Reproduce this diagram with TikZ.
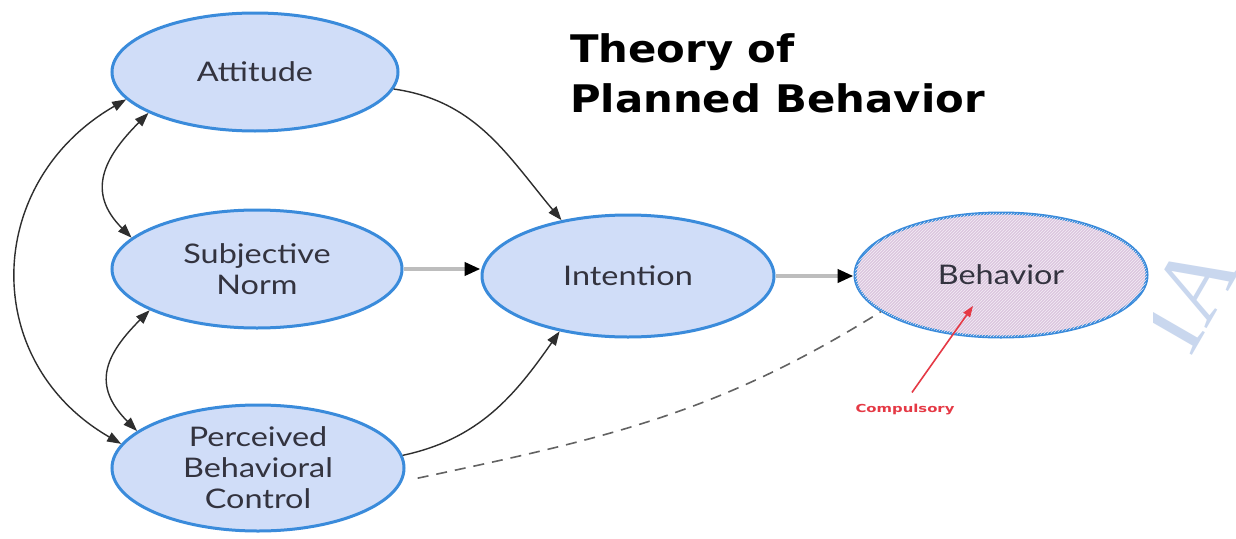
\documentclass[tikz,border=0pt]{standalone}
\usepackage{fontspec}
\setmainfont{Lato}
\newfontfamily\nodefont[FakeStretch=1.2]{Lato}
\newfontfamily\titlefont[FakeStretch=1.1]{DejaVu Sans}
\newfontfamily\compfont[FakeStretch=1.35]{DejaVu Sans}
\newfontfamily\wmfont{Liberation Serif}
\usetikzlibrary{shapes.geometric,arrows.meta,patterns}
\definecolor{efill}{HTML}{D0DDF8}
\definecolor{eborder}{HTML}{3A8BDB}
\definecolor{bfill}{HTML}{DBC6DF}
\definecolor{txt}{HTML}{33333F}
\definecolor{lnk}{HTML}{2E2E2E}
\definecolor{hline}{HTML}{BDBDBD}
\definecolor{redc}{HTML}{E53945}
\definecolor{wm}{HTML}{C9D7EE}
\tikzset{
  ell/.style={ellipse, draw=eborder, line width=3pt, fill=efill, inner sep=0pt,
    text=txt, align=center, font=\nodefont\fontsize{27}{31}\selectfont},
  curvearrow/.style={draw=lnk, line width=1.4pt, -{Triangle[length=14pt,width=10pt]}},
  dblarrow/.style={draw=lnk, line width=1.4pt, {Triangle[length=14pt,width=10pt]}-{Triangle[length=14pt,width=10pt]}},
  grayarrow/.style={draw=hline, line width=4pt, -{Triangle[length=16pt,width=13pt,color=black]}},
}
\begin{document}
\begin{tikzpicture}[x=1pt,y=-1pt]
\useasboundingbox (0,0) rectangle (1236,538);
\fill[white] (0,0) rectangle (1236,538);
% watermark
\begin{scope}
\clip (1153,200) rectangle (1236,420);
\node[text=wm, rotate=60, font=\wmfont\fontsize{100}{100}\selectfont, inner sep=0pt] (wmark) at (1188,296) {IA};
\end{scope}
% title
\node[anchor=base west, font=\titlefont\bfseries\fontsize{38}{50}\selectfont, inner sep=0pt] (title) at (570,62) {Theory of};
\node[anchor=base west, font=\titlefont\bfseries\fontsize{38}{50}\selectfont, inner sep=0pt] (title2) at (570,112) {Planned Behavior};
% nodes
\node[ell, minimum width=286pt, minimum height=118pt] (att) at (255,72) {Attitude};
\node[ell, minimum width=290pt, minimum height=118pt] (sn) at (257,269) {Subjective\\Norm};
\node[ell, minimum width=292pt, minimum height=126pt] (pbc) at (258,468) {Perceived\\Behavioral\\Control};
\node[ell, minimum width=292pt, minimum height=122pt] (int) at (628,276) {Intention};
\node[ell, fill=bfill, minimum width=292pt, minimum height=124pt,
  postaction={pattern=north east lines, pattern color=white!70!bfill}] (beh) at (1001,275) {Behavior};
% connectors
\draw[curvearrow] (att.-7) to[out=-8, in=130] (int.140);
\draw[curvearrow] (pbc.5) to[out=12, in=-125] (int.219);
\draw[grayarrow] (sn.east) -- (int.west |- sn.east);
\draw[grayarrow] (int.east) -- (beh.west |- int.east);
\draw[draw=lnk!75, line width=1.6pt, dash pattern=on 11pt off 8pt] ([xshift=14pt]pbc.-4) to[out=12, in=-148] (beh.197);
\draw[dblarrow] (att.201) to[out=225, in=135, looseness=1.3] (sn.166);
\draw[dblarrow] (sn.201) to[out=225, in=135, looseness=1.35] (pbc.163);
\draw[dblarrow] (att.192) to[out=210, in=150, looseness=1.22] (pbc.170);
% compulsory
\node[text=redc, font=\compfont\bfseries\fontsize{11}{11}\selectfont, inner sep=0pt] (comp) at (905,410) {Compulsory};
\draw[redc, line width=1.6pt, -{Triangle[length=11pt,width=8pt]}] ([xshift=7pt,yshift=12pt]comp.north) -- (973,306);
\end{tikzpicture}
\end{document}
